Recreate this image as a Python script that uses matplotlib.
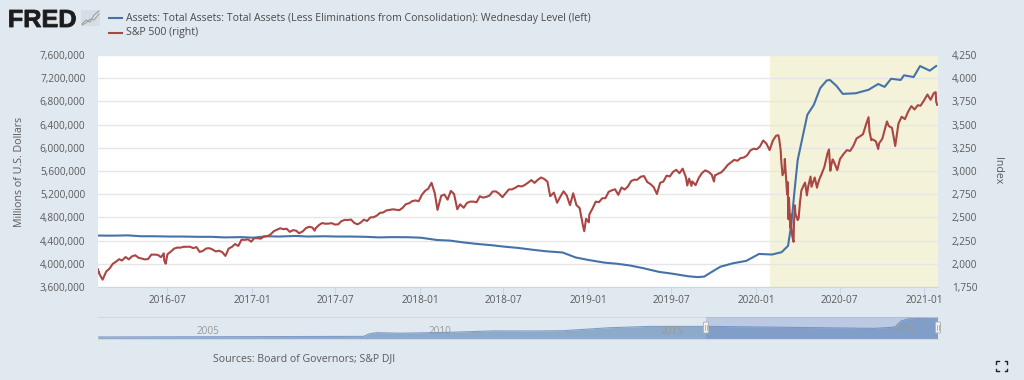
import matplotlib
matplotlib.use('Agg')
import matplotlib.pyplot as plt
import matplotlib.dates as mdates
from matplotlib.patches import Rectangle, FancyBboxPatch, PathPatch
from matplotlib.textpath import TextPath
from matplotlib.font_manager import FontProperties
from matplotlib.transforms import Affine2D
from datetime import datetime

plt.rcParams['font.family'] = ['Open Sans', 'DejaVu Sans']

#--------------------------------------------Data
sp_dates = ['2016-02-01','2016-02-02','2016-02-03','2016-02-05','2016-02-11','2016-02-19','2016-02-26','2016-03-04','2016-03-11','2016-03-18','2016-03-24',
   '2016-04-01','2016-04-08','2016-04-15','2016-04-22','2016-04-29','2016-05-06','2016-05-13','2016-05-20','2016-05-27',
   '2016-06-03','2016-06-10','2016-06-17','2016-06-23','2016-06-24','2016-06-27','2016-07-01','2016-07-08','2016-07-15','2016-07-22','2016-07-29',
   '2016-08-05','2016-08-12','2016-08-19','2016-08-26','2016-09-02','2016-09-09','2016-09-16','2016-09-23','2016-09-30',
   '2016-10-07','2016-10-14','2016-10-21','2016-10-28','2016-11-04','2016-11-11','2016-11-18','2016-11-25','2016-12-02','2016-12-09','2016-12-16','2016-12-23','2016-12-30',
   '2017-01-06','2017-01-13','2017-01-20','2017-01-27','2017-02-03','2017-02-10','2017-02-17','2017-02-24','2017-03-03','2017-03-10','2017-03-17','2017-03-24','2017-03-31',
   '2017-04-07','2017-04-13','2017-04-21','2017-04-28','2017-05-05','2017-05-12','2017-05-17','2017-05-19','2017-05-26','2017-06-02','2017-06-09','2017-06-16','2017-06-23','2017-06-30',
   '2017-07-07','2017-07-14','2017-07-21','2017-07-28','2017-08-04','2017-08-11','2017-08-18','2017-08-25','2017-09-01','2017-09-08','2017-09-15','2017-09-22','2017-09-29',
   '2017-10-06','2017-10-13','2017-10-20','2017-10-27','2017-11-03','2017-11-10','2017-11-17','2017-11-24','2017-12-01','2017-12-08','2017-12-15','2017-12-22','2017-12-29',
   '2018-01-05','2018-01-12','2018-01-19','2018-01-26','2018-02-02','2018-02-08','2018-02-16','2018-02-23','2018-03-02','2018-03-09','2018-03-16','2018-03-23','2018-03-29',
   '2018-04-06','2018-04-13','2018-04-20','2018-04-27','2018-05-04','2018-05-11','2018-05-18','2018-05-25','2018-06-01','2018-06-08','2018-06-15','2018-06-22','2018-06-29',
   '2018-07-06','2018-07-13','2018-07-20','2018-07-27','2018-08-03','2018-08-10','2018-08-17','2018-08-24','2018-08-31','2018-09-07','2018-09-14','2018-09-21','2018-09-28',
   '2018-10-05','2018-10-11','2018-10-19','2018-10-26','2018-11-02','2018-11-09','2018-11-16','2018-11-23','2018-11-30','2018-12-07','2018-12-14','2018-12-21','2018-12-24','2018-12-28',
   '2019-01-03','2019-01-04','2019-01-11','2019-01-18','2019-01-25','2019-02-01','2019-02-08','2019-02-15','2019-02-22','2019-03-01','2019-03-08','2019-03-15','2019-03-22','2019-03-29',
   '2019-04-05','2019-04-12','2019-04-18','2019-04-26','2019-05-03','2019-05-10','2019-05-17','2019-05-24','2019-05-31','2019-06-07','2019-06-14','2019-06-21','2019-06-28',
   '2019-07-05','2019-07-12','2019-07-19','2019-07-26','2019-08-02','2019-08-05','2019-08-09','2019-08-14','2019-08-16','2019-08-23','2019-08-30','2019-09-06','2019-09-13','2019-09-20','2019-09-27',
   '2019-10-02','2019-10-04','2019-10-11','2019-10-18','2019-10-25','2019-11-01','2019-11-08','2019-11-15','2019-11-22','2019-11-29','2019-12-06','2019-12-13','2019-12-20','2019-12-27',
   '2020-01-03','2020-01-10','2020-01-17','2020-01-24','2020-01-31','2020-02-07','2020-02-14','2020-02-19','2020-02-21','2020-02-24','2020-02-25','2020-02-28','2020-03-03','2020-03-04','2020-03-06','2020-03-09','2020-03-10','2020-03-12','2020-03-13','2020-03-16','2020-03-17','2020-03-18','2020-03-20','2020-03-23','2020-03-24','2020-03-26','2020-03-27',
   '2020-04-01','2020-04-03','2020-04-06','2020-04-09','2020-04-14','2020-04-17','2020-04-21','2020-04-24','2020-04-29','2020-05-01','2020-05-08','2020-05-13','2020-05-15','2020-05-19','2020-05-22','2020-05-29',
   '2020-06-05','2020-06-08','2020-06-11','2020-06-12','2020-06-16','2020-06-19','2020-06-26','2020-07-02','2020-07-10','2020-07-17','2020-07-24','2020-07-31',
   '2020-08-07','2020-08-14','2020-08-21','2020-08-28','2020-09-02','2020-09-04','2020-09-08','2020-09-11','2020-09-18','2020-09-23','2020-09-25',
   '2020-10-02','2020-10-09','2020-10-12','2020-10-16','2020-10-23','2020-10-30','2020-11-06','2020-11-13','2020-11-20','2020-11-27','2020-12-04','2020-12-11','2020-12-18','2020-12-24','2020-12-31',
   '2021-01-08','2021-01-15','2021-01-22','2021-01-26','2021-01-27','2021-01-29']
sp_values = [1940,1903,1912,1880,1829,1918,1948,1999,2022,2050,2035,
   2073,2048,2081,2092,2065,2057,2047,2052,2099,
   2099,2096,2071,2113,2037,2001,2103,2130,2162,2175,2174,
   2183,2184,2184,2169,2180,2128,2139,2165,2168,
   2154,2133,2141,2126,2085,2164,2182,2213,2192,2260,2258,2264,2239,
   2277,2275,2271,2295,2297,2316,2351,2367,2383,2373,2378,2344,2363,
   2356,2329,2349,2384,2399,2391,2357,2382,2416,2439,2432,2433,2438,2423,
   2425,2459,2473,2472,2477,2441,2425,2444,2476,2461,2500,2502,2519,
   2549,2553,2575,2581,2587,2582,2578,2602,2642,2652,2675,2683,2674,
   2743,2786,2810,2873,2762,2581,2732,2747,2691,2786,2752,2588,2641,
   2604,2656,2670,2670,2663,2728,2713,2721,2735,2779,2780,2755,2718,
   2760,2801,2802,2819,2840,2833,2850,2875,2902,2872,2905,2930,2914,
   2885,2728,2767,2658,2723,2781,2736,2632,2760,2633,2600,2416,2351,2485,
   2447,2531,2596,2670,2664,2706,2707,2775,2792,2803,2743,2822,2800,2834,
   2892,2907,2905,2939,2945,2881,2859,2826,2752,2873,2886,2950,2941,
   2990,3013,2976,3025,2932,2844,2918,2840,2888,2847,2926,2978,3007,2992,2961,
   2887,2952,2970,2986,3022,3066,3093,3120,3110,3140,3145,3168,3221,3240,
   3234,3265,3329,3295,3225,3327,3380,3386,3338,3225,3128,2954,3003,3130,2972,2747,2882,2480,2711,2386,2529,2398,2305,2237,2447,2630,2541,
   2471,2489,2664,2790,2846,2875,2737,2837,2939,2830,2930,2820,2864,2923,2955,3044,
   3194,3232,3002,3041,3125,3098,3009,3130,3185,3225,3216,3271,
   3351,3372,3397,3508,3580,3427,3332,3341,3319,3237,3298,
   3348,3477,3534,3484,3465,3270,3510,3585,3558,3638,3699,3663,3709,3703,3756,
   3824,3768,3841,3849,3750,3714]

assets_dates = ['2016-02-03','2016-03-02','2016-04-06','2016-05-04','2016-06-01','2016-07-06','2016-08-03','2016-09-07','2016-10-05','2016-11-02','2016-12-07','2017-01-04','2017-02-01','2017-03-01',
   '2017-04-05','2017-05-03','2017-06-07','2017-07-05','2017-08-02','2017-09-06','2017-10-04','2017-11-01','2017-12-06','2018-01-03','2018-02-07','2018-03-07','2018-04-04','2018-05-02','2018-06-06','2018-07-04','2018-08-01','2018-09-05',
   '2018-10-03','2018-11-07','2018-12-05','2019-01-02','2019-02-06','2019-03-06','2019-04-03','2019-05-01','2019-06-05','2019-07-03','2019-08-07','2019-08-28','2019-09-11','2019-09-25','2019-10-16',
   '2019-11-13','2019-12-11','2020-01-08','2020-02-05','2020-02-26','2020-03-11','2020-03-18','2020-03-25','2020-04-01',
   '2020-04-22','2020-05-06','2020-05-20','2020-06-03','2020-06-10','2020-06-24','2020-07-08','2020-08-05','2020-09-02',
   '2020-09-23','2020-10-07','2020-10-21','2020-11-11','2020-11-18','2020-12-09','2020-12-23','2021-01-13','2021-01-27']
assets_values = [4.487,4.485,4.490,4.475,4.475,4.470,4.470,4.465,4.465,4.455,4.460,4.450,4.475,4.470,4.480,4.470,4.475,4.470,4.470,4.465,4.455,4.460,4.458,4.450,4.410,4.400,4.370,4.345,4.320,4.295,4.275,4.240,
   4.215,4.195,4.110,4.066,4.020,4.000,3.970,3.925,3.860,3.830,3.785,3.770,3.780,3.850,3.950,4.010,4.050,4.170,4.160,4.200,4.310,4.670,5.250,5.790,
   6.570,6.740,7.030,7.160,7.170,7.070,6.930,6.940,7.000,
   7.100,7.050,7.190,7.170,7.250,7.220,7.410,7.330,7.410]

nav_dates = ['2002-12-18','2007-12-26','2008-09-10','2008-10-22','2008-12-17','2009-06-24','2010-06-30','2011-06-29',
   '2012-06-27','2013-01-02','2014-01-01','2014-10-29','2016-02-03','2019-09-11','2020-02-26','2020-04-15','2020-06-10',
   '2021-01-27']
nav_values = [0.72,0.90,0.93,1.80,2.24,2.05,2.35,2.87,2.85,2.95,4.00,4.45,4.48,3.77,4.20,6.37,7.17,7.41]
nav_labels = ['2005','2010','2015','2020']

left_ticks = [3600000,4000000,4400000,4800000,5200000,5600000,6000000,6400000,6800000,7200000,7600000]
right_ticks = [1750,2000,2250,2500,2750,3000,3250,3500,3750,4000,4250]
x_ticks = ['2016-07','2017-01','2017-07','2018-01','2018-07','2019-01','2019-07','2020-01','2020-07','2021-01']

def to_dates(lst):
   return [datetime.fromisoformat(d if len(d) > 7 else d + '-01') for d in lst]

#--------------------------------------------Style
BG = '#e1e9f0'
BLUE = '#4572a7'
RED = '#aa4643'
TXT = '#5a5a5a'
W, H = 1024, 380

def box(x0, y0, x1, y1):
   return [x0/W, 1 - y1/H, (x1-x0)/W, (y1-y0)/H]

fig = plt.figure(figsize=(W/100, H/100), dpi=100, facecolor=BG)

#----------------------------------------------Main chart
x_start = datetime(2016, 2, 1)
x_end = datetime(2021, 1, 31)
ax = fig.add_axes(box(98, 55, 938, 287), facecolor='white')
ax.axvspan(datetime(2020, 2, 1), x_end, color='#f4f3d9', lw=0, zorder=0)
ax.plot(to_dates(assets_dates), [v*1e6 for v in assets_values], color=BLUE, lw=1.5, zorder=3)
ax.set_xlim(x_start, x_end)
ax.set_ylim(left_ticks[0], left_ticks[-1])
ax.set_yticks(left_ticks)
ax.set_yticklabels([f'{v:,}' for v in left_ticks])
ax.set_xticks(mdates.date2num(to_dates(x_ticks)))
ax.set_xticklabels(x_ticks)
ax.grid(axis='y', color='#e6e6e6', lw=1)
ax.tick_params(axis='y', length=0, pad=9, labelsize=7.2, labelcolor=TXT)
ax.tick_params(axis='x', length=6, width=0.8, color='#ccd6eb', pad=0, labelsize=7.2, labelcolor=TXT)
for s in ['top', 'left', 'right']:
   ax.spines[s].set_visible(False)
ax.spines['bottom'].set_color('#ccd6eb')

ax2 = ax.twinx()
ax2.plot(to_dates(sp_dates), sp_values, color=RED, lw=1.5, zorder=3)
ax2.set_ylim(right_ticks[0], right_ticks[-1])
ax2.set_yticks(right_ticks)
ax2.set_yticklabels([f'{v:,}' for v in right_ticks])
ax2.tick_params(axis='y', length=0, pad=10, labelsize=7.2, labelcolor=TXT)
for s in ax2.spines.values():
   s.set_visible(False)

#----------------------------------------------Navigator
nav = fig.add_axes(box(98, 317, 938, 339), facecolor=BG)
nd = to_dates(nav_dates)
nav_m = [v*1e6 for v in nav_values]
nav.fill_between(nd, nav_m, 0, color='#8eaacb', lw=0, zorder=2)
nav.plot(nd, nav_m, color='#7f9dc6', lw=0.8, zorder=2)
nav.set_xlim(datetime(2002, 12, 18), x_end)
nav.set_ylim(0, 7.8e6)
nav.axvspan(x_start, x_end, color='#6685c2', alpha=0.3, lw=0, zorder=3)
nav.set_yticks([])
nav.set_xticks([])
for s in nav.spines.values():
   s.set_visible(False)
nav.spines['top'].set_visible(True)
nav.spines['top'].set_color('#d3d8dc')
nav.spines['bottom'].set_visible(True)
nav.spines['bottom'].set_color('#d3d8dc')
for lab in nav_labels:
   nav.annotate(lab, (datetime(int(lab), 1, 1), 0.32), xycoords=('data', 'axes fraction'), xytext=(3, 0),
                textcoords='offset points', fontsize=7.2, color='#999999', va='center', zorder=4)

#----------------------------------------------Everything else, in pixel coords
top = fig.add_axes([0, 0, 1, 1], facecolor='none')
top.set_xlim(0, W)
top.set_ylim(H, 0)
top.axis('off')

# logo, stretched to fit its box
logo = TextPath((0, 0), 'FRED', size=10, prop=FontProperties(family='Liberation Sans', weight='bold'))
lb = logo.get_extents()
logo_tr = Affine2D().translate(-lb.x0, -lb.y0).scale(66/lb.width, -17/lb.height).translate(9.5, 27)
top.add_patch(PathPatch(logo, transform=logo_tr + top.transData, fc='#1c1c1c', ec='#1c1c1c', lw=0.6))
top.add_patch(Rectangle((81, 10), 19, 16, color='#d5dde5', lw=0))
top.plot([82, 86, 90, 94, 99], [24, 20, 22, 15, 11], color='#8a9db5', lw=0.7)
top.plot([82, 86, 90, 94, 99], [25, 23, 19, 20, 14], color='#b09a80', lw=0.7)

top.plot([109, 122], [18, 18], color=BLUE, lw=1.5)
top.plot([109, 122], [33, 33], color=RED, lw=1.5)
top.text(126, 18, 'Assets: Total Assets: Total Assets (Less Eliminations from Consolidation): Wednesday Level (left)',
         fontsize=7.6, color='#4a4a4a', va='center')
top.text(126, 33, 'S&P 500 (right)', fontsize=7.6, color='#4a4a4a', va='center')

top.text(20, 172, 'Millions of U.S. Dollars', rotation=90, fontsize=7.7, color=TXT, ha='center', va='center')
top.text(998, 171, 'Index', rotation=270, fontsize=7.6, color=TXT, ha='center', va='center')
top.text(213, 359, 'Sources: Board of Governors; S&P DJI', fontsize=7.6, color=TXT, va='center')

# handles of the navigator
for hx in [706, 938]:
   top.add_patch(FancyBboxPatch((hx-2.5, 322), 5, 11, boxstyle='round,pad=0,rounding_size=1',
                                fc='#f2f2f2', ec='#b5b5b5', lw=0.7, zorder=5))
   top.plot([hx-0.8, hx-0.8], [325, 330], color='#999999', lw=0.5, zorder=6)
   top.plot([hx+0.8, hx+0.8], [325, 330], color='#999999', lw=0.5, zorder=6)

# fullscreen icon
for cx, cy, dx, dy in [(996, 361, 1, 1), (1007, 361, -1, 1), (996, 371, 1, -1), (1007, 371, -1, -1)]:
   top.plot([cx+2.5*dx, cx, cx], [cy, cy, cy+2.5*dy], color='#222222', lw=1)

fig.savefig('out.png', dpi=100, facecolor=BG)
